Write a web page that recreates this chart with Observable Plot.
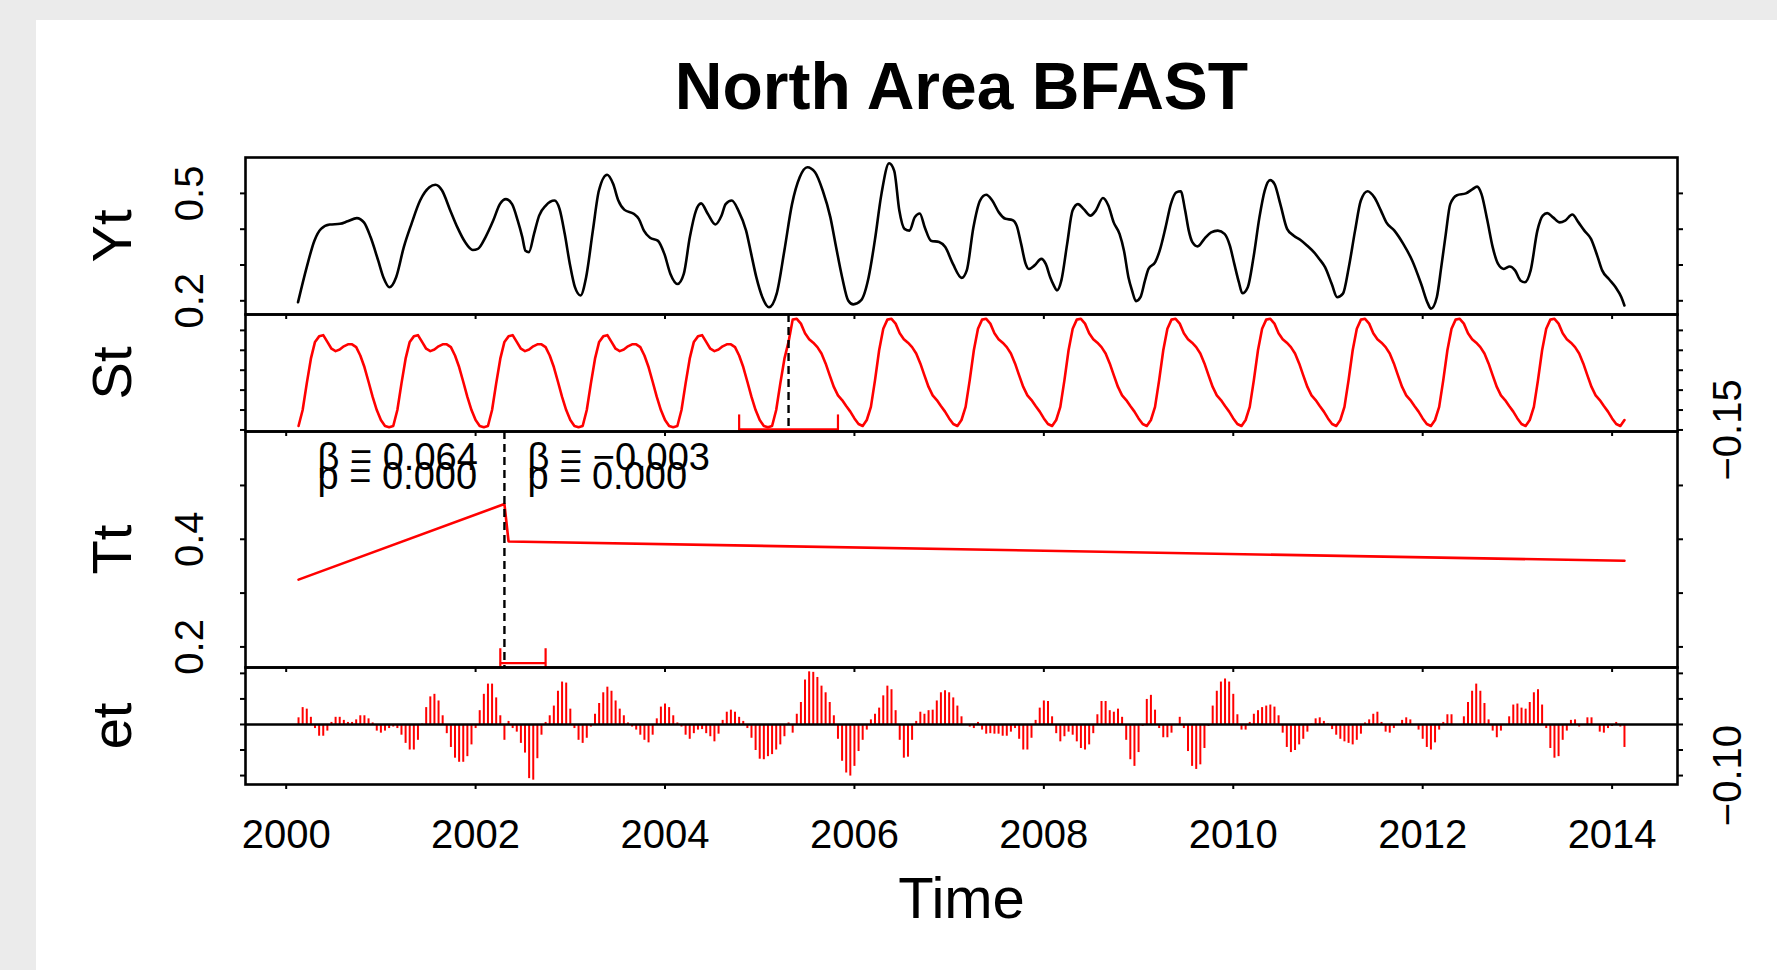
<!DOCTYPE html>
<html>
<head>
<meta charset="utf-8">
<script src="https://cdn.jsdelivr.net/npm/d3@7"></script>
<script src="https://cdn.jsdelivr.net/npm/@observablehq/plot@0.6"></script>
<style>
  html, body { margin: 0; padding: 0; background: #ebebeb; overflow: hidden; }
  #page { position: relative; width: 1777px; height: 970px; }
  #sheet { position: absolute; left: 36px; top: 20px; width: 1741px; height: 950px; background: #ffffff; }
</style>
</head>
<body>
<div id="page"><div id="sheet"></div></div>
<script>
// ---------------- data ----------------
const chartTitle = "North Area BFAST";
const xAxisLabel = "Time";
const panelLabels = ["Yt", "St", "Tt", "et"];

// 16-day series: 23 observations per year, first observation 2000 + 3/23
const tsStart = 2000 + 3 / 23;
const tsFrequency = 23;

// observed series Yt, digitised (decimal year, value)
const ytTime = [2000.125,2000.217,2000.298,2000.368,2000.460,2000.568,2000.649,2000.746,2000.821,2000.891,
2000.972,2001.026,2001.091,2001.161,2001.242,2001.323,2001.414,2001.512,2001.576,2001.646,
2001.727,2001.808,2001.889,2001.970,2002.024,2002.105,2002.186,2002.256,2002.321,2002.385,
2002.445,2002.493,2002.526,2002.563,2002.617,2002.671,2002.741,2002.833,2002.887,2002.941,
2002.995,2003.049,2003.108,2003.167,2003.238,2003.302,2003.389,2003.453,2003.507,2003.572,
2003.669,2003.723,2003.777,2003.842,2003.923,2003.993,2004.057,2004.133,2004.198,2004.262,
2004.327,2004.381,2004.451,2004.532,2004.597,2004.640,2004.705,2004.775,2004.856,2004.910,
2004.964,2005.028,2005.098,2005.179,2005.260,2005.341,2005.422,2005.503,2005.584,2005.665,
2005.746,2005.800,2005.870,2005.934,2005.988,2006.069,2006.150,2006.215,2006.285,2006.366,
2006.420,2006.474,2006.528,2006.582,2006.636,2006.690,2006.743,2006.808,2006.894,2006.959,
2007.040,2007.132,2007.186,2007.256,2007.326,2007.391,2007.455,2007.525,
2007.595,2007.666,2007.713,2007.760,2007.808,2007.841,2007.902,2007.973,2008.020,2008.067,
2008.105,2008.138,2008.185,2008.246,2008.303,2008.360,2008.421,2008.492,2008.548,2008.624,
2008.681,2008.737,2008.799,2008.846,2008.893,2008.931,2008.973,2009.020,2009.068,2009.105,
2009.176,2009.223,2009.285,2009.341,2009.398,2009.445,2009.492,2009.530,2009.568,2009.624,
2009.695,2009.766,2009.837,2009.908,2009.964,2010.011,2010.059,2010.096,2010.153,2010.214,
2010.276,2010.332,2010.389,2010.436,2010.497,2010.568,2010.639,2010.710,2010.781,2010.851,
2010.908,2010.969,2011.040,2011.097,2011.158,2011.220,2011.286,2011.347,2011.418,2011.489,
2011.559,2011.616,2011.701,2011.795,2011.890,2011.984,2012.055,2012.088,2012.149,2012.196,
2012.244,2012.291,2012.362,2012.456,2012.527,2012.574,2012.621,2012.683,2012.739,2012.796,
2012.857,2012.918,2012.975,2013.032,2013.079,2013.140,2013.211,2013.268,2013.315,2013.376,
2013.447,2013.504,2013.579,2013.645,2013.707,2013.777,2013.848,2013.895,2013.966,2014.037,
2014.098,2014.130];
const ytValue = [0.196,0.294,0.368,0.401,0.413,0.415,0.422,0.431,0.419,0.378,
0.312,0.266,0.238,0.266,0.350,0.415,0.480,0.517,0.524,0.508,
0.456,0.405,0.364,0.342,0.345,0.378,0.424,0.470,0.484,0.470,
0.424,0.378,0.340,0.336,0.387,0.438,0.466,0.480,0.456,0.387,
0.303,0.238,0.215,0.266,0.396,0.508,0.552,0.526,0.480,0.454,
0.443,0.429,0.396,0.376,0.368,0.331,0.275,0.247,0.275,0.378,
0.452,0.472,0.443,0.413,0.438,0.470,0.480,0.452,0.396,0.331,
0.266,0.210,0.182,0.220,0.340,0.470,0.545,0.573,0.559,0.508,
0.433,0.359,0.266,0.201,0.190,0.201,0.266,0.368,0.498,0.584,
0.563,0.452,0.401,0.396,0.433,0.444,0.405,0.368,0.364,0.350,
0.303,0.264,0.285,0.405,0.480,0.496,0.480,0.447,
0.429,0.426,0.410,0.359,0.303,0.289,0.299,0.317,0.303,0.266,
0.243,0.229,0.257,0.359,0.452,0.470,0.456,0.438,0.452,0.487,
0.466,0.419,0.387,0.340,0.266,0.229,0.199,0.210,0.257,0.289,
0.308,0.340,0.405,0.470,0.503,0.506,0.452,0.396,0.364,0.352,
0.373,0.391,0.396,0.387,0.354,0.303,0.252,0.221,0.238,0.322,
0.433,0.508,0.537,0.526,0.470,0.401,0.382,0.370,0.354,0.336,
0.317,0.294,0.247,0.210,0.220,0.294,0.396,0.480,0.506,0.489,
0.452,0.419,0.396,0.359,0.312,0.247,0.192,0.178,0.210,0.294,
0.387,0.470,0.495,0.500,0.512,0.519,0.498,0.424,0.350,0.303,
0.289,0.296,0.285,0.257,0.252,0.285,0.396,0.438,0.445,0.433,
0.419,0.424,0.441,0.419,0.396,0.373,0.322,0.285,0.261,0.238,
0.210,0.187];

// seasonal component St, one value per observation (thousandths)
const stThousandths = [
-140,-100,-33,29,71,85,88,71,54,48,52,60,65,65,58,37,8,-29,-67,-100,-125,-140,-143,
-140,-100,-33,29,71,85,88,71,54,48,52,60,65,65,58,37,8,-29,-67,-100,-125,-140,-143,
-140,-100,-33,29,71,85,88,71,54,48,52,60,65,65,58,37,8,-29,-67,-100,-125,-140,-143,
-140,-100,-33,29,71,85,88,71,54,48,52,60,65,65,58,37,8,-29,-67,-100,-125,-140,-143,
-140,-100,-33,29,71,85,88,71,54,48,52,60,65,65,58,37,8,-29,-67,-100,-125,-140,-143,
-140,-100,-33,29,71,
127,129,117,93,78,69,58,42,17,-13,-42,-63,-75,-90,-104,-121,-135,-140,
-125,-92,-25,50,104,127,129,117,93,78,69,58,42,17,-13,-42,-63,-75,-90,-104,-121,-135,-140,
-125,-92,-25,50,104,127,129,117,93,78,69,58,42,17,-13,-42,-63,-75,-90,-104,-121,-135,-140,
-125,-92,-25,50,104,127,129,117,93,78,69,58,42,17,-13,-42,-63,-75,-90,-104,-121,-135,-140,
-125,-92,-25,50,104,127,129,117,93,78,69,58,42,17,-13,-42,-63,-75,-90,-104,-121,-135,-140,
-125,-92,-25,50,104,127,129,117,93,78,69,58,42,17,-13,-42,-63,-75,-90,-104,-121,-135,-140,
-125,-92,-25,50,104,127,129,117,93,78,69,58,42,17,-13,-42,-63,-75,-90,-104,-121,-135,-140,
-125,-92,-25,50,104,127,129,117,93,78,69,58,42,17,-13,-42,-63,-75,-90,-104,-121,-135,-140,
-125,-92,-25,50,104,127,129,117,93,78,69,58,42,17,-13,-42,-63,-75,-90,-104,-121,-135,-140,
-125];

// remainder et, one value per observation (thousandths)
const etThousandths = [
13,33,30,14,-8,-23,-23,-13,4,14,
14,8,4,4,9,17,17,11,3,-13,
-17,-13,-8,-5,-8,-21,-37,-50,-50,-31,
1,33,54,59,46,17,-18,-45,-66,-74,
-74,-63,-40,-8,27,59,79,79,52,17,
-31,6,-8,-15,-37,-56,-106,-109,-67,-21,
4,17,36,65,83,81,30,-8,-31,-37,
-27,-5,20,41,62,73,65,46,30,17,
3,-5,-11,-21,-31,-36,-21,11,34,40,
33,17,3,-5,-21,-29,-18,-11,-10,-18,
-24,-34,-19,8,24,28,24,14,6,-8,
-27,-51,-68,-69,-63,-59,-50,-40,-24,3,
-17,20,43,87,103,102,92,75,62,43,
17,-29,-72,-95,-101,-82,-53,-31,-11,9,
20,32,56,75,68,27,-31,-66,-64,-31,
6,24,20,27,28,46,62,66,62,52,
36,15,-2,-5,-8,4,-11,-19,-18,-19,
-19,-23,-23,-15,-8,-29,-50,-50,-27,8,32,
46,45,15,-18,-34,-24,-15,-21,-34,-47,
-50,-40,-18,19,45,45,27,24,30,14,
-31,-69,-82,-55,-4,49,57,28,-8,-26,
-26,-17,0,14,-8,-53,-82,-88,-79,-47,
-4,36,65,83,89,83,59,19,-11,-11,
4,20,27,33,36,38,34,17,-17,-45,
-55,-51,-40,-29,-15,1,11,13,6,1,
-10,-21,-29,-34,-37,-40,-31,-19,3,9,
20,24,4,-15,-17,-8,0,8,13,9,
0,-11,-29,-45,-50,-36,-11,4,19,19,
-2,-2,15,43,65,79,65,41,9,-13,
-26,-13,0,15,38,40,32,30,43,62,
68,38,-8,-47,-66,-63,-31,-13,8,9,
-5,-2,13,13,0,-15,-17,-8,-4,4,
-5,-45];

// trend Tt: piecewise linear, values at observation numbers (1-based)
const trendObs = [1, 51, 52, 323];
const trendValue = [0.325, 0.4655, 0.396, 0.360];
const trendSegmentStartObs = [1, 52];
const trendSlopes = [0.064, -0.003];
const trendPValues = [0.000, 0.000];

// breakpoints with confidence intervals (observation numbers: lower, break, upper)
const seasonBreakCI = [108, 120, 132];
const trendBreakCI = [50, 51, 61];

// axis ticks and labels
const xTicks = [2000, 2002, 2004, 2006, 2008, 2010, 2012, 2014];
const ytTicks = [0.2, 0.3, 0.4, 0.5];
const ytTickLabels = [0.2, 0.5];
const stTicks = [-0.15, -0.10, -0.05, 0, 0.05, 0.10];
const stTickLabels = [-0.15];
const ttTicks = [0.2, 0.3, 0.4, 0.5];
const ttTickLabels = [0.2, 0.4];
const etTicks = [-0.10, -0.05, 0, 0.05, 0.10];
const etTickLabels = [-0.10];

// ---------------- build ----------------
const FONT = '"Liberation Sans", Arial, Helvetica, sans-serif';
const RED = "#ff0000";
const obsTime = i => tsStart + i / tsFrequency; // zero-based index
const observed = ytTime.map((t, i) => ({time: t, value: ytValue[i]}));
const seasonal = stThousandths.map((v, i) => ({time: obsTime(i), value: v / 1000}));
const remainder = etThousandths.map((v, i) => ({time: obsTime(i), value: v / 1000}));
const trend = trendObs.map((o, i) => ({time: obsTime(o - 1), value: trendValue[i]}));
const segments = trendSegmentStartObs.map((o, i) => ({time: obsTime(o - 1), slope: trendSlopes[i], p: trendPValues[i]}));

const pad4 = ([a, b]) => { const d = (b - a) * 0.04; return [a - d, b + d]; };
const xDomain = pad4([obsTime(0), obsTime(seasonal.length - 1)]);
const ytRange = d3.extent(ytValue);
const ytDomain = pad4(ytRange);
const stRange = d3.extent(seasonal, d => d.value);
const stDomain = pad4(stRange);
const etDomain = pad4(d3.extent(remainder, d => d.value));

const f1 = d3.format(".1f"), f2 = d3.format(".2f"), f3 = d3.format(".3f");

const W = 1777, ML = 245, MR = 100;
const layout = {Yt: [157, 157], St: [314, 117], Tt: [431, 236], et: [667, 117]};
const page = document.getElementById("page");

function commonMarks(ticks) {
  return [
    Plot.axisX({anchor: "bottom", ticks: xTicks, tickSize: 5, tickFormat: () => "", strokeWidth: 2, label: null}),
    Plot.axisY({anchor: "left", ticks, tickSize: 5, tickFormat: () => "", strokeWidth: 2, label: null}),
    Plot.axisY({anchor: "right", ticks, tickSize: 5, tickFormat: () => "", strokeWidth: 2, label: null})
  ];
}
function panelLabel(name) {
  return Plot.text([name], {text: d => d, frameAnchor: "left", textAnchor: "middle", dx: -132, rotate: -90, fontSize: 56});
}
function leftLabels(vals, fmt) {
  return Plot.text(vals, {y: d => d, text: d => fmt(d), frameAnchor: "left", textAnchor: "middle", dx: -55, rotate: -90, fontSize: 40});
}
function rightLabels(vals, fmt) {
  return Plot.text(vals, {y: d => d, text: d => fmt(d), frameAnchor: "right", textAnchor: "middle", dx: 51, rotate: -90, fontSize: 40});
}
function ciMarks(ci, domain, dataRange, height) {
  const t = ci.map(o => obsTime(o - 1));
  const at = domain[0] + (dataRange[1] - dataRange[0]) * 0.02;
  const h = 14.4 * (domain[1] - domain[0]) / height;
  return [
    Plot.ruleX([t[1]], {x: d => d, stroke: "black", strokeWidth: 2.4, strokeDasharray: "8,5"}),
    Plot.ruleY([at], {y: d => d, x1: t[0], x2: t[2], stroke: RED, strokeWidth: 2.2, clip: true}),
    Plot.ruleX([t[0], t[2]], {x: d => d, y1: at - h, y2: at + h, stroke: RED, strokeWidth: 2.2, clip: true})
  ];
}
function addPanel(name, yDomain, marks) {
  const [top, height] = layout[name];
  const svg = Plot.plot({
    width: W, height, marginLeft: ML, marginRight: MR, marginTop: 0, marginBottom: 0,
    x: {domain: xDomain}, y: {domain: yDomain},
    style: {overflow: "visible", background: "transparent", fontFamily: FONT, color: "black"},
    marks
  });
  svg.style.position = "absolute";
  svg.style.left = "0px";
  svg.style.top = top + "px";
  svg.style.maxWidth = "none";
  page.appendChild(svg);
}

// Yt
addPanel("Yt", ytDomain, [
  ...commonMarks(ytTicks),
  Plot.line(observed, {x: "time", y: "value", stroke: "black", strokeWidth: 2.6, curve: "monotone-x"}),
  Plot.frame({stroke: "black", strokeWidth: 2.6}),
  panelLabel(panelLabels[0]),
  leftLabels(ytTickLabels, f1),
  Plot.text([chartTitle], {text: d => d, frameAnchor: "top", dy: -49, lineAnchor: "bottom", fontSize: 66, fontWeight: "bold"})
]);

// St
addPanel("St", stDomain, [
  ...commonMarks(stTicks),
  Plot.line(seasonal, {x: "time", y: "value", stroke: RED, strokeWidth: 2.6}),
  ...ciMarks(seasonBreakCI, stDomain, stRange, layout.St[1]),
  Plot.frame({stroke: "black", strokeWidth: 2.6}),
  panelLabel(panelLabels[1]),
  rightLabels(stTickLabels, f2)
]);

// Tt
addPanel("Tt", ytDomain, [
  ...commonMarks(ttTicks),
  Plot.line(trend, {x: "time", y: "value", stroke: RED, strokeWidth: 2.6}),
  ...ciMarks(trendBreakCI, ytDomain, ytRange, layout.Tt[1]),
  Plot.text(segments, {x: "time", text: d => `β = ${f3(d.slope)}`, frameAnchor: "top", dx: 19, dy: 38, textAnchor: "start", lineAnchor: "bottom", fontSize: 38}),
  Plot.text(segments, {x: "time", text: d => `p = ${f3(d.p)}`, frameAnchor: "top", dx: 19, dy: 57, textAnchor: "start", lineAnchor: "bottom", fontSize: 38}),
  Plot.frame({stroke: "black", strokeWidth: 2.6}),
  panelLabel(panelLabels[2]),
  leftLabels(ttTickLabels, f1)
]);

// et
addPanel("et", etDomain, [
  ...commonMarks(etTicks),
  Plot.ruleX(remainder, {x: "time", y1: 0, y2: "value", stroke: RED, strokeWidth: 2}),
  Plot.ruleY([0], {stroke: "black", strokeWidth: 2.6}),
  Plot.frame({stroke: "black", strokeWidth: 2.6}),
  panelLabel(panelLabels[3]),
  rightLabels(etTickLabels, f2),
  Plot.text(xTicks, {x: d => d, text: d => String(d), frameAnchor: "bottom", dy: 63, lineAnchor: "bottom", fontSize: 40}),
  Plot.text([xAxisLabel], {text: d => d, frameAnchor: "bottom", dy: 133, lineAnchor: "bottom", fontSize: 58})
]);
</script>
</body>
</html>
